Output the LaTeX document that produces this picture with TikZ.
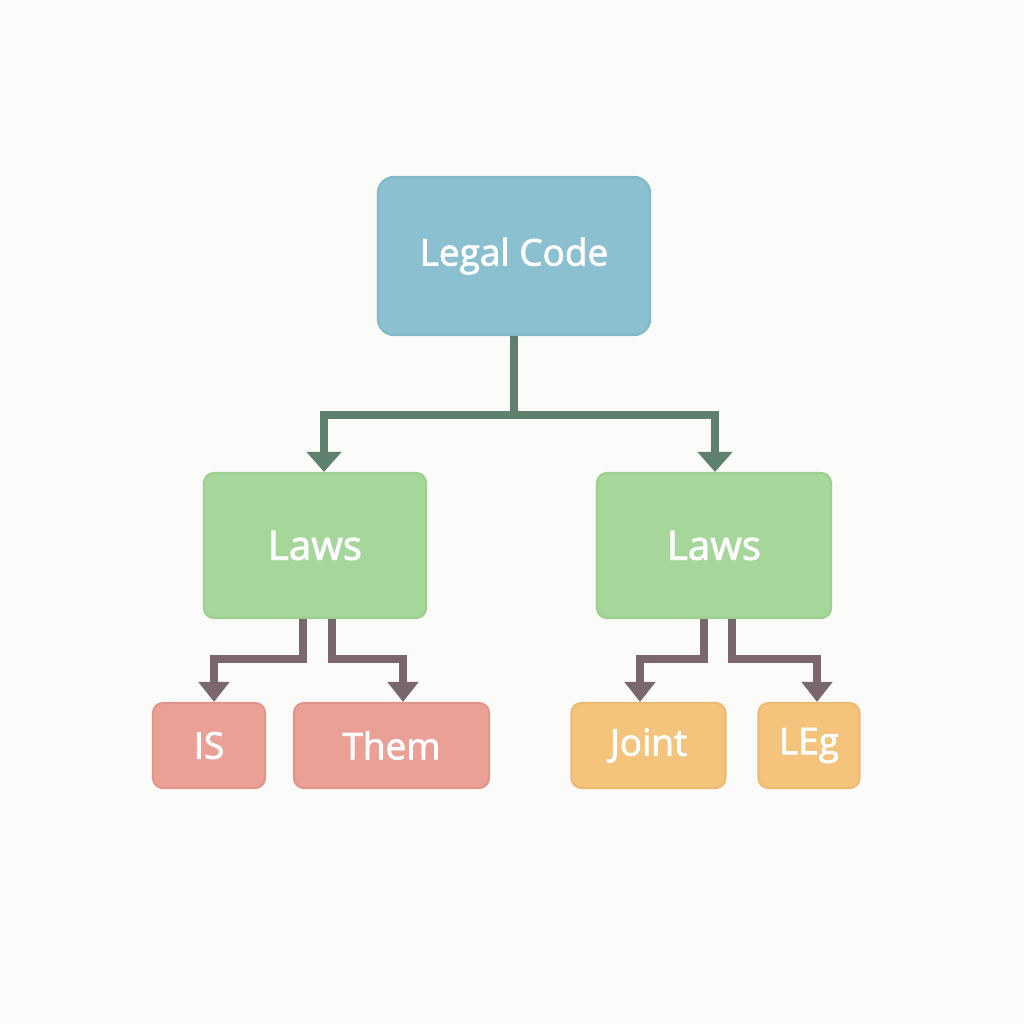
\documentclass[tikz,border=0pt]{standalone}
\usepackage{fontspec}
\setmainfont{Open Sans}
\newfontfamily\boxfont{Open Sans}[FakeBold=2]
\usetikzlibrary{arrows.meta}
\definecolor{bgcol}{HTML}{FBFBFA}
\definecolor{codefill}{HTML}{8BC0D1}
\definecolor{codeedge}{HTML}{82B8CA}
\definecolor{lawfill}{HTML}{A6D79A}
\definecolor{lawedge}{HTML}{9CCF90}
\definecolor{redfill}{HTML}{EBA096}
\definecolor{rededge}{HTML}{E4958B}
\definecolor{orgfill}{HTML}{F4C37C}
\definecolor{orgedge}{HTML}{EDBA72}
\definecolor{topline}{HTML}{5E806D}
\definecolor{subline}{HTML}{7A676B}

\begin{document}
\begin{tikzpicture}[x=0.01cm, y=-0.01cm,
  box/.style={rectangle, rounded corners=1mm, inner sep=0pt, line width=0.6pt,
    text=white, font=\boxfont\fontsize{11.5}{14}\selectfont},
  smallbox/.style={box, minimum height=0.85cm, font=\boxfont\fontsize{10.5}{13}\selectfont},
  topconn/.style={draw=topline, line width=0.8mm, -{Triangle[width=3.4mm, length=2mm]}},
  subconn/.style={draw=subline, line width=0.8mm, -{Triangle[width=3mm, length=2mm]}}]
  \fill[bgcol] (0,0) rectangle (1024,1024);
  \useasboundingbox (0,0) rectangle (1024,1024);

  \node[box, fill=codefill, draw=codeedge, rounded corners=1.6mm, minimum width=2.72cm, minimum height=1.58cm,
    font=\boxfont\fontsize{10.5}{14}\selectfont] (code) at (514,256) {Legal Code};
  \node[box, fill=lawfill, draw=lawedge, minimum width=2.22cm, minimum height=1.45cm] (lawsA) at (315,545.5) {Laws};
  \node[box, fill=lawfill, draw=lawedge, minimum width=2.34cm, minimum height=1.45cm] (lawsB) at (714,545.5) {Laws};
  \node[smallbox, fill=redfill, draw=rededge, minimum width=1.12cm] (is) at (209,745.5) {IS};
  \node[smallbox, fill=redfill, draw=rededge, minimum width=1.95cm] (them) at (391.5,745.5) {Them};
  \node[smallbox, fill=orgfill, draw=orgedge, minimum width=1.54cm] (joint) at (648.5,745.5) {Joint};
  \node[smallbox, fill=orgfill, draw=orgedge, minimum width=1.01cm] (leg) at (809,745.5) {LEg};

  \draw[topconn] (code.south) -- ++(0,79) -| ([xshift=0.9mm]lawsA.north);
  \draw[topconn] (code.south) -- ++(0,79) -| ([xshift=0.1mm]lawsB.north);
  \draw[subconn] ([xshift=-1.2mm]lawsA.south) -- ++(0,40) -| ([xshift=0.5mm]is.north);
  \draw[subconn] ([xshift=1.7mm]lawsA.south) -- ++(0,40) -| ([xshift=1.15mm]them.north);
  \draw[subconn] ([xshift=-1mm]lawsB.south) -- ++(0,40) -| ([xshift=-0.85mm]joint.north);
  \draw[subconn] ([xshift=1.8mm]lawsB.south) -- ++(0,40) -| ([xshift=0.8mm]leg.north);
\end{tikzpicture}
\end{document}
